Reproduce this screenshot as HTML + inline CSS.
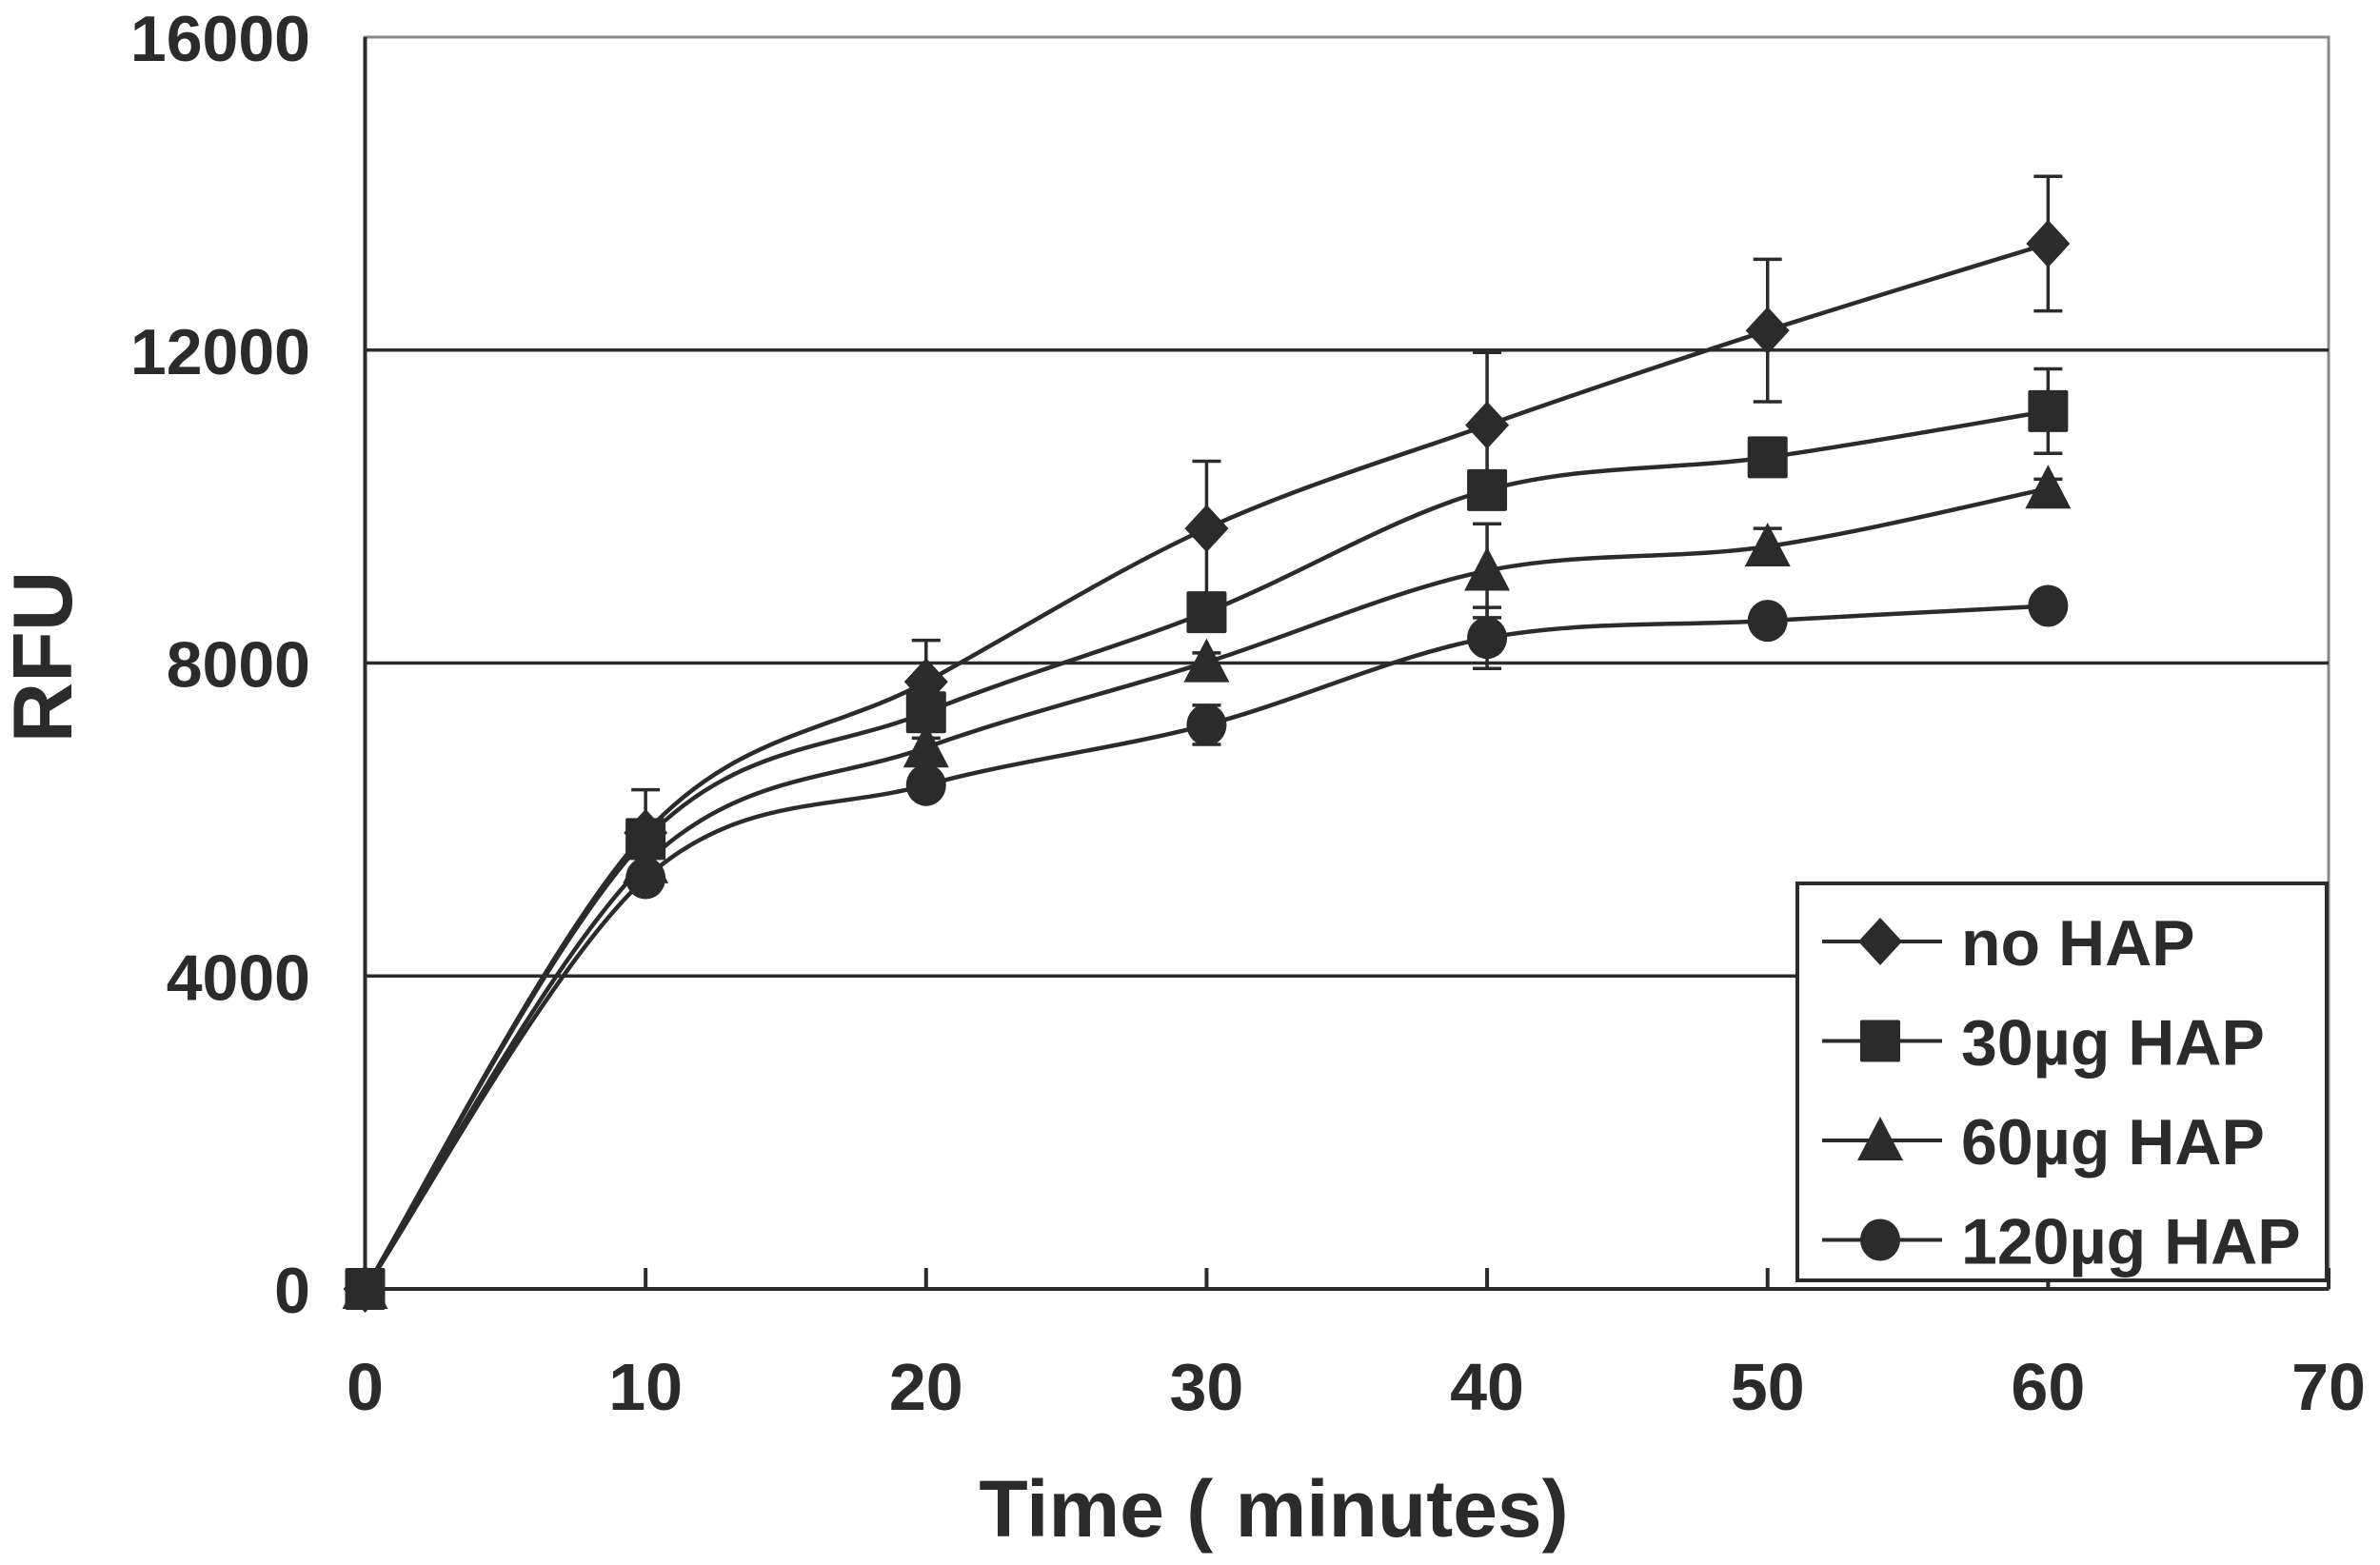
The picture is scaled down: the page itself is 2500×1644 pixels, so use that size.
<!DOCTYPE html>
<html><head><meta charset="utf-8"><style>
html,body{margin:0;padding:0;background:#fff}
svg{display:block}
text{font-family:"Liberation Sans",Arial,sans-serif;font-weight:bold;fill:#2b2b2b}
</style></head><body>
<svg id="chart" width="2500" height="1644" viewBox="0 0 2500 1644" xmlns="http://www.w3.org/2000/svg"></svg>
<script>
const times = [0, 10, 20, 30, 40, 50, 60];
const seriesNames = ["no HAP", "30µg HAP", "60µg HAP", "120µg HAP"];
const noHap = [0, 5830, 7760, 9720, 11040, 12250, 13360];
const hap30 = [0, 5750, 7370, 8650, 10210, 10630, 11220];
const hap60 = [0, 5440, 6920, 8010, 9180, 9490, 10230];
const hap120 = [0, 5250, 6440, 7210, 8320, 8540, 8730];
const errNoHap = [0, 550, 530, 860, 930, 910, 860];
const err30 = [0, 150, 150, 150, 150, 200, 540];
const err60 = [0, 100, 120, 120, 600, 230, 120];
const err120 = [0, 100, 100, 250, 390, 100, 100];
const yTicks = [0, 4000, 8000, 12000, 16000];
const xTicks = [0, 10, 20, 30, 40, 50, 60, 70];

const svg = document.getElementById('chart');
const NS = 'http://www.w3.org/2000/svg';
const X0 = 383.5, XW = 2446 - 383.5, Y0 = 1354, YH = 1354 - 39;
const xs = t => X0 + t / 70 * XW;
const ys = v => Y0 - v / 16000 * YH;
const C = '#2b2b2b';
function el(tag, attrs, parent) {
  const e = document.createElementNS(NS, tag);
  for (const k in attrs) e.setAttribute(k, attrs[k]);
  (parent || svg).appendChild(e);
  return e;
}
const frame = el('rect', {x: X0, y: ys(16000), width: XW, height: YH, fill: 'none', stroke: '#888', 'stroke-width': 3});


yTicks.forEach(v => {
  if (v > 0 && v < 16000) {
    const g = el('line', {x1: X0, x2: X0 + XW, y1: ys(v), y2: ys(v), stroke: C, 'stroke-width': 3.5});
    
    
  }
  const t = el('text', {x: 326, y: ys(v) + 25, 'text-anchor': 'end', 'font-size': 68});
  t.textContent = v;
  
  
});
const ya = el('line', {x1: X0, x2: X0, y1: ys(16000), y2: Y0, stroke: C, 'stroke-width': 4});


const xa = el('line', {x1: X0, x2: X0 + XW, y1: Y0, y2: Y0, stroke: C, 'stroke-width': 4});


xTicks.forEach(t => {
  const tk = el('line', {x1: xs(t), x2: xs(t), y1: Y0, y2: Y0 - 22, stroke: C, 'stroke-width': 4});
  
  
  const lb = el('text', {x: xs(t), y: 1481, 'text-anchor': 'middle', 'font-size': 70});
  lb.textContent = t;
  
  
});
const xt = el('text', {x: 1338, y: 1614, 'text-anchor': 'middle', 'font-size': 84});
xt.textContent = 'Time ( minutes)';


const yt = el('text', {x: 0, y: 0, 'text-anchor': 'middle', 'font-size': 88, transform: 'translate(75,690) rotate(-90)'});
yt.textContent = 'RFU';



function marker(kind, cx, cy, parent) {
  let m;
  if (kind === 0) m = el('polygon', {points: `${cx},${cy-25} ${cx+23},${cy} ${cx},${cy+25} ${cx-23},${cy}`, fill: C}, parent);
  else if (kind === 1) m = el('rect', {x: cx-21, y: cy-22, width: 42, height: 44, rx: 2, fill: C}, parent);
  else if (kind === 2) m = el('polygon', {points: `${cx},${cy-25} ${cx+24},${cy+21} ${cx-24},${cy+21}`, fill: C}, parent);
  else m = el('ellipse', {cx: cx, cy: cy, rx: 21, ry: 22, fill: C}, parent);
  return m;
}
function smoothPath(pts) {
  let d = `M${pts[0][0]},${pts[0][1]}`;
  for (let i = 0; i < pts.length - 1; i++) {
    const p0 = pts[Math.max(0, i-1)], p1 = pts[i], p2 = pts[i+1], p3 = pts[Math.min(pts.length-1, i+2)];
    const c1 = [p1[0] + (p2[0]-p0[0])/6, p1[1] + (p2[1]-p0[1])/6];
    const c2 = [p2[0] - (p3[0]-p1[0])/6, p2[1] - (p3[1]-p1[1])/6];
    d += ` C${c1[0]},${c1[1]} ${c2[0]},${c2[1]} ${p2[0]},${p2[1]}`;
  }
  return d;
}
const allSeries = [noHap, hap30, hap60, hap120];
const allErr = [errNoHap, err30, err60, err120];
allSeries.forEach((vals, si) => {
  const g = el('g', {});
  
  
  const pts = vals.map((v, i) => [xs(times[i]), ys(v)]);
  const p = el('path', {d: smoothPath(pts), fill: 'none', stroke: C, 'stroke-width': 4.5}, g);
  
  
  vals.forEach((v, i) => {
    const e = allErr[si][i];
    if (i > 0 && e > 0) {
      const x = xs(times[i]);
      const eb = el('path', {d: `M${x},${ys(v+e)} V${ys(v-e)} M${x-15},${ys(v+e)} H${x+15} M${x-15},${ys(v-e)} H${x+15}`, stroke: C, 'stroke-width': 3.5, fill: 'none'}, g);
      
      
    }
    const m = marker(si, xs(times[i]), ys(v), g);
    
    
  });
});
const lg = el('g', {});


const lbox = el('rect', {x: 1888, y: 928, width: 556, height: 417, fill: '#fff', stroke: C, 'stroke-width': 4}, lg);


seriesNames.forEach((n, i) => {
  const y = 989 + i * 104.5;
  const ln = el('line', {x1: 1914, x2: 2040, y1: y, y2: y, stroke: C, 'stroke-width': 4}, lg);
  
  
  const m = marker(i, 1975, y, lg);
  
  
  const t = el('text', {x: 2060, y: y + 25, 'font-size': 68}, lg);
  t.textContent = n;
  
  
});
</script>
</body></html>
